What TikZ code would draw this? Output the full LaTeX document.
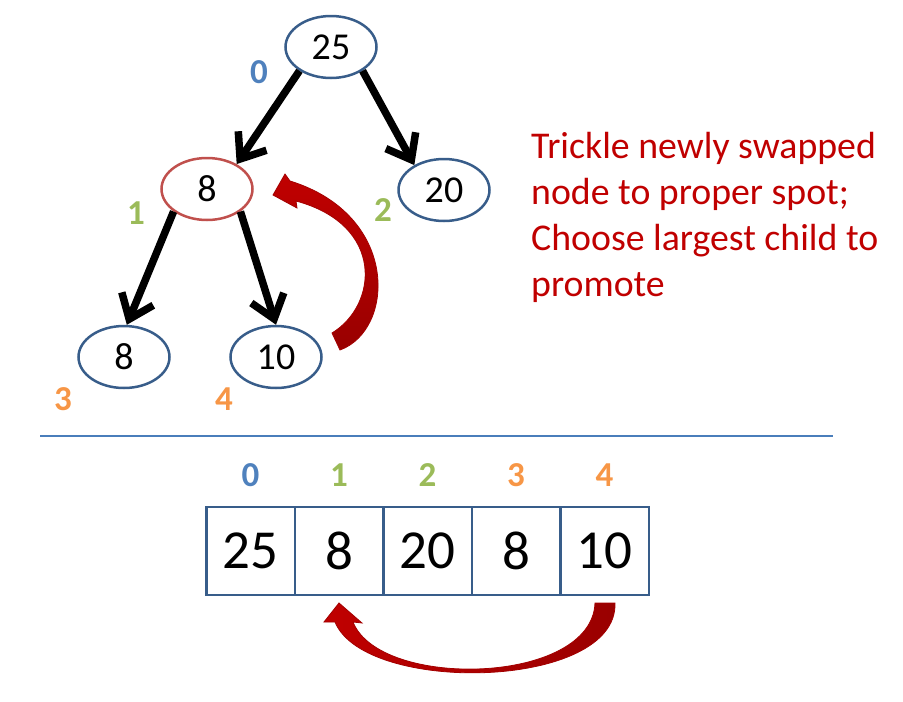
\documentclass[tikz,border=0pt]{standalone}
\usepackage{fontspec}
\setmainfont{Carlito}
\usetikzlibrary{shapes.geometric,arrows.meta,positioning}

\definecolor{nodeblue}{HTML}{385D8A}
\definecolor{nodered}{HTML}{C0504D}
\definecolor{idxblue}{HTML}{4F81BD}
\definecolor{idxgreen}{HTML}{9BBB59}
\definecolor{idxorange}{HTML}{F79646}
\definecolor{swapred}{HTML}{C00000}
\definecolor{swapdark}{HTML}{990000}
\definecolor{rulecol}{HTML}{4A7EBB}

\begin{document}
\begin{tikzpicture}[%
    x=1pt, y=-1pt,
    node distance=88.5pt,
    on grid,
    heapnode/.style={ellipse, draw=nodeblue, line width=2.5pt, minimum width=91pt,
      minimum height=62pt, inner sep=0pt, font=\fontsize{38}{38}\selectfont},
    cell/.style={rectangle, draw=nodeblue, line width=2.5pt, minimum width=88.5pt,
      minimum height=88pt, inner sep=0pt, font=\fontsize{55}{55}\selectfont},
    idx/.style={inner sep=0pt, font=\bfseries\fontsize{35}{35}\selectfont},
    tree/.style={line width=7.5pt, -{Straight Barb[length=22pt,width=34pt]}},
    swap/.style={draw=swapred!85!black, line width=0.8pt}
  ]
    \useasboundingbox (0,0) rectangle (903,702);

    % heap as a tree
    \node[heapnode] (root) at (331,47) {25};
    \node[heapnode, draw=nodered] (n1) at (207,189) {8};
    \node[heapnode] (n2) at (444,190) {20};
    \node[heapnode] (n3) at (124,357) {8};
    \node[heapnode] (n4) at (276,357) {10};

    \node[idx, text=idxblue] (i0) at (259,72) {0};
    \node[idx, text=idxgreen] (i1) at (136,213) {1};
    \node[idx, text=idxgreen] (i2) at (383,210) {2};
    \node[idx, text=idxorange] (i3) at (63,399) {3};
    \node[idx, text=idxorange] (i4) at (224,399) {4};

    \draw[tree] (root.217) -- (n1.40);
    \draw[tree] (root.323) -- (n2.140);
    \draw[tree] (n1.214) -- (n3.85);
    \draw[tree] (n1.326) -- (n4.90);

    % swap arrow in the tree
    \shadedraw[swap, top color=swapred, middle color=swapred, bottom color=swapdark]
      (340,350) .. controls (395,330) and (400,215) .. (290,181)
      -- (285,174) -- (273,195) -- (297,208) -- (296,201)
      .. controls (385,225) and (378,305) .. (332,333) -- cycle;

    \node[anchor=north west, inner sep=0pt, align=left, text=swapred,
      font=\fontsize{37.8}{46}\selectfont] (note) at (531,132)
      {Trickle newly swapped\\node to proper spot;\\Choose largest child to\\promote};

    \draw[rulecol, line width=1.2pt] (40,436) -- (833,436);

    % heap as an array
    \node[cell] (a0) at (250.5,551) {25};
    \node[cell, right=of a0] (a1) {8};
    \node[cell, right=of a1] (a2) {20};
    \node[cell, right=of a2] (a3) {8};
    \node[cell, right=of a3] (a4) {10};

    \node[idx, text=idxblue, above=76pt of a0] (j0) {0};
    \node[idx, text=idxgreen, above=76pt of a1] (j1) {1};
    \node[idx, text=idxgreen, above=76pt of a2] (j2) {2};
    \node[idx, text=idxorange, above=76pt of a3] (j3) {3};
    \node[idx, text=idxorange, above=76pt of a4] (j4) {4};

    % swap arrow under the array
    \shadedraw[swap, left color=swapred, middle color=swapred, right color=swapdark]
      (615,603) .. controls (618,690) and (365,695) .. (335,622)
      -- (324,622) -- (339,603) -- (362,623) -- (353,622)
      .. controls (380,690) and (592,685) .. (595,603) -- cycle;
  \end{tikzpicture}
\end{document}
